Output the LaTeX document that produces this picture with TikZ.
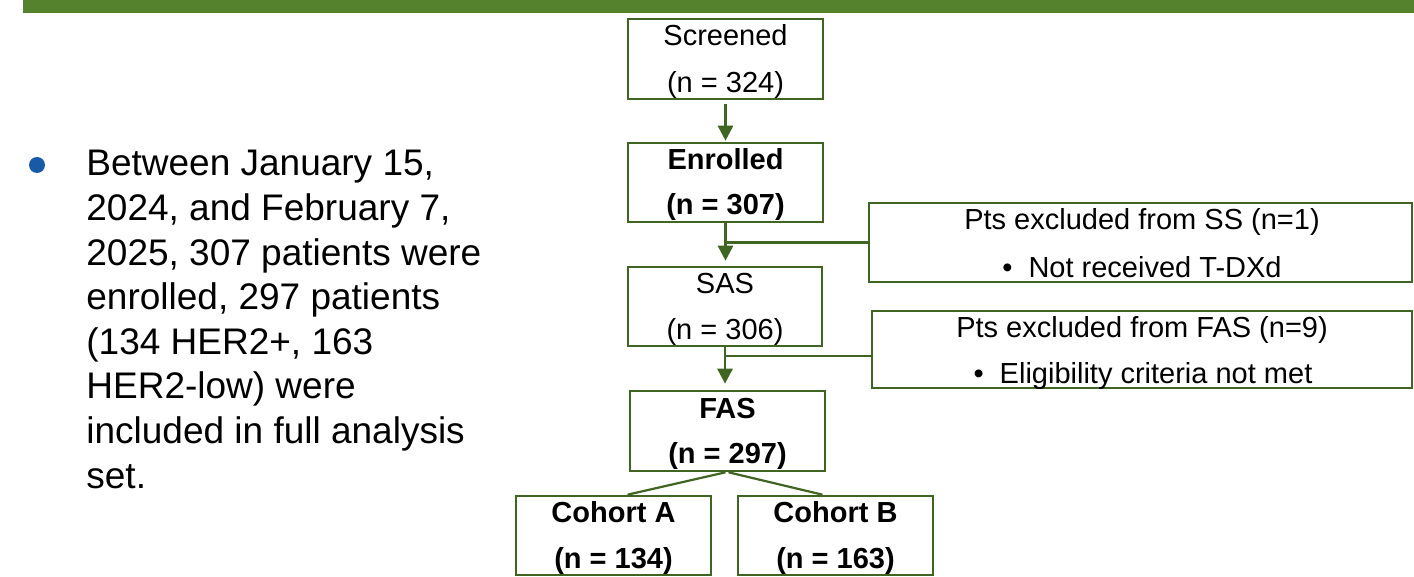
\documentclass[tikz,border=0pt]{standalone}
\usepackage{fontspec}
\setmainfont{Liberation Sans}
\usetikzlibrary{arrows.meta}
\definecolor{bargreen}{RGB}{84,130,45}
\definecolor{boxgreen}{RGB}{64,100,34}
\definecolor{dotblue}{RGB}{24,90,165}
\tikzset{
  flowbox/.style={draw=boxgreen,line width=1.3pt,inner sep=0pt,rectangle},
  boxtext/.style={anchor=base,inner sep=0pt,font=\fontsize{14.5pt}{17pt}\selectfont},
  boldtext/.style={boxtext,font=\fontsize{14.5pt}{17pt}\selectfont\bfseries},
  bodytext/.style={anchor=base west,inner sep=0pt,font=\fontsize{18.5pt}{22pt}\selectfont},
  conn/.style={draw=boxgreen,line width=1.4pt},
  arr/.style={conn,-{Triangle[width=7.5pt,length=7.5pt]}},
  split/.style={draw=boxgreen,line width=1.1pt}
}
\begin{document}
\begin{tikzpicture}[x=0.5pt,y=-0.5pt]
\useasboundingbox (0,0) rectangle (1414,577);
\fill[bargreen] (23,0) rectangle (1414,12.7);

% bullet and text
\fill[dotblue] (37,165) circle (8);
\node[bodytext] (l1) at (86,176) {Between January 15,};
\node[bodytext] (l2) at (86,221) {2024, and February 7,};
\node[bodytext] (l3) at (86,265.5) {2025, 307 patients were};
\node[bodytext] (l4) at (86,310) {enrolled, 297 patients};
\node[bodytext] (l5) at (86,354.5) {(134 HER2+, 163};
\node[bodytext] (l6) at (86,399) {HER2-low) were};
\node[bodytext] (l7) at (86,443.5) {included in full analysis};
\node[bodytext] (l8) at (86,488) {set.};

% boxes
\node[flowbox,minimum width={195*0.5pt},minimum height={80*0.5pt}] (scr) at (725.5,59) {};
\node[flowbox,minimum width={195*0.5pt},minimum height={79*0.5pt}] (enr) at (725.5,182.5) {};
\node[flowbox,minimum width={194*0.5pt},minimum height={79*0.5pt}] (sas) at (725,306.5) {};
\node[flowbox,minimum width={195*0.5pt},minimum height={80*0.5pt}] (fas) at (727.5,431) {};
\node[flowbox,minimum width={195*0.5pt},minimum height={79*0.5pt}] (ca) at (613.5,535.5) {};
\node[flowbox,minimum width={195*0.5pt},minimum height={79*0.5pt}] (cb) at (835.5,535.5) {};
\node[flowbox,minimum width={543*0.5pt},minimum height={79*0.5pt}] (ex1) at (1140.5,242.5) {};
\node[flowbox,minimum width={540*0.5pt},minimum height={77*0.5pt}] (ex2) at (1142,349.5) {};

% texts
\node[boxtext] (scr1) at (725.5,46) {Screened};
\node[boxtext] (scr2) at (725.5,93) {(n = 324)};
\node[boldtext] (enr1) at (725.5,170) {Enrolled};
\node[boldtext] (enr2) at (725.5,215) {(n = 307)};
\node[boxtext] (sas1) at (725,293) {SAS};
\node[boxtext] (sas2) at (725,340) {(n = 306)};
\node[boldtext] (fas1) at (727.5,418) {FAS};
\node[boldtext] (fas2) at (727.5,463.5) {(n = 297)};
\node[boldtext] (ca1) at (613.5,522) {Cohort A};
\node[boldtext] (ca2) at (613.5,568) {(n = 134)};
\node[boldtext] (cb1) at (835.5,522) {Cohort B};
\node[boldtext] (cb2) at (835.5,568) {(n = 163)};
\node[boxtext] (ex1a) at (1142,230) {Pts excluded from SS (n=1)};
\node[boxtext] (ex1b) at (1142,278) {\textbullet\hspace{0.55em}Not received T-DXd};
\node[boxtext] (ex2a) at (1142,337) {Pts excluded from FAS (n=9)};
\node[boxtext] (ex2b) at (1143,383) {\textbullet\hspace{0.55em}Eligibility criteria not met};

% connectors
\draw[arr,shorten <=2pt,shorten >=0.5pt] (scr.south) -- (enr.north);
\draw[arr,shorten >=2.5pt] (enr.south) -- (enr.south |- sas.north);
\draw[conn] (ex1.west) -- (ex1.west -| enr.south);
\draw[arr,shorten >=3pt] (sas.south) -- (sas.south |- fas.north);
\coordinate (j2) at (726,356);
\draw[conn] (j2) -- (j2 -| ex2.west);
\draw[split] ([xshift=-1pt]fas.south) -- ([xshift=7pt]ca.north);
\draw[split] ([xshift=0.5pt]fas.south) -- ([xshift=-6.5pt]cb.north);
\end{tikzpicture}
\end{document}
